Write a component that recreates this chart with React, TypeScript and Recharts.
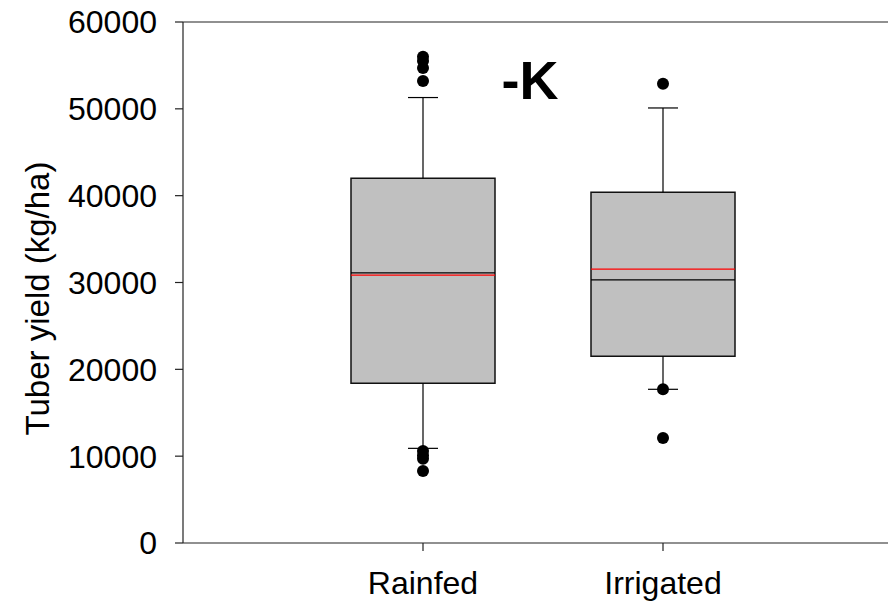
import React from 'react';
import {
  ComposedChart,
  XAxis,
  YAxis,
  Scatter,
  ReferenceArea,
  ReferenceLine,
} from 'recharts';

// Treatments and their positions on the numeric x axis
const categories = ['Rainfed', 'Irrigated'];
const positions = [1, 2];

// Box statistics for tuber yield (kg/ha)
const lowerWhisker = [10900, 17700];
const q1 = [18400, 21500];
const median = [31100, 30300];
const mean = [30850, 31550];
const q3 = [42000, 40400];
const upperWhisker = [51300, 50100];

// Points outside the whiskers
const rainfedOutliers = [56000, 55500, 54700, 53200, 10600, 10100, 9700, 8300];
const irrigatedOutliers = [52900, 17700, 12100];

const yTicks = [0, 10000, 20000, 30000, 40000, 50000, 60000];

const BOX_HALF = 0.3;
const CAP_HALF = 0.0625;
const FONT = 'Liberation Sans, Arial, sans-serif';
const TICK_SIZE = 32;

const outlierData = [
  ...rainfedOutliers.map((y) => ({ x: positions[0], y })),
  ...irrigatedOutliers.map((y) => ({ x: positions[1], y })),
];

const Dot = (props: any) => <circle cx={props.cx} cy={props.cy} r={6} fill="#000" />;

const YLabel = (props: any) => {
  const vb = props.viewBox || { x: 0, y: 0, width: 0, height: 0 };
  const cx = vb.x + 37;
  const cy = vb.y + vb.height / 2 + 16;
  return (
    <text
      x={cx}
      y={cy}
      transform={`rotate(-90 ${cx} ${cy})`}
      textAnchor="middle"
      dominantBaseline="central"
      fontFamily={FONT}
      fontSize={33}
      fill="#000"
    >
      Tuber yield (kg/ha)
    </text>
  );
};

export default function App() {
  return (
    <div
      style={{
        position: 'absolute',
        left: 0,
        top: 0,
        width: 888,
        height: 602,
        overflow: 'hidden',
        background: '#fff',
      }}
    >
      <ComposedChart
        width={903}
        height={602}
        margin={{ top: 22, right: 0, bottom: 0, left: 0 }}
      >
        <XAxis
          type="number"
          dataKey="x"
          domain={[0, 3]}
          ticks={positions}
          tickFormatter={(v: number) => categories[positions.indexOf(v)] ?? ''}
          height={59}
          axisLine={{ stroke: '#222', strokeWidth: 1.2 }}
          tickLine={{ stroke: '#222', strokeWidth: 1.2 }}
          tickSize={8}
          tickMargin={20}
          tick={{ fill: '#000', fontSize: TICK_SIZE, fontFamily: FONT }}
          allowDataOverflow
        />
        <YAxis
          type="number"
          dataKey="y"
          domain={[0, 60000]}
          ticks={yTicks}
          width={183}
          axisLine={{ stroke: '#222', strokeWidth: 1.2 }}
          tickLine={{ stroke: '#222', strokeWidth: 1.2 }}
          tickSize={8}
          tickMargin={18}
          tick={{ fill: '#000', fontSize: TICK_SIZE, fontFamily: FONT }}
          label={<YLabel />}
          allowDataOverflow
        />
        <ReferenceLine y={60000} stroke="#222" strokeWidth={1.2} />

        {positions.map((p, i) => (
          <ReferenceLine
            key={`wu-${i}`}
            segment={[
              { x: p, y: q3[i] },
              { x: p, y: upperWhisker[i] },
            ]}
            stroke="#000"
            strokeWidth={1.2}
          />
        ))}
        {positions.map((p, i) => (
          <ReferenceLine
            key={`wd-${i}`}
            segment={[
              { x: p, y: lowerWhisker[i] },
              { x: p, y: q1[i] },
            ]}
            stroke="#000"
            strokeWidth={1.2}
          />
        ))}
        {positions.map((p, i) => (
          <ReferenceLine
            key={`cu-${i}`}
            segment={[
              { x: p - CAP_HALF, y: upperWhisker[i] },
              { x: p + CAP_HALF, y: upperWhisker[i] },
            ]}
            stroke="#000"
            strokeWidth={1.2}
          />
        ))}
        {positions.map((p, i) => (
          <ReferenceLine
            key={`cl-${i}`}
            segment={[
              { x: p - CAP_HALF, y: lowerWhisker[i] },
              { x: p + CAP_HALF, y: lowerWhisker[i] },
            ]}
            stroke="#000"
            strokeWidth={1.2}
          />
        ))}
        {positions.map((p, i) => (
          <ReferenceArea
            key={`box-${i}`}
            x1={p - BOX_HALF}
            x2={p + BOX_HALF}
            y1={q1[i]}
            y2={q3[i]}
            fill="#c0c0c0"
            fillOpacity={1}
            stroke="#111"
            strokeWidth={1.5}
          />
        ))}
        {positions.map((p, i) => (
          <ReferenceLine
            key={`med-${i}`}
            segment={[
              { x: p - BOX_HALF, y: median[i] },
              { x: p + BOX_HALF, y: median[i] },
            ]}
            stroke="#000"
            strokeWidth={1.2}
          />
        ))}
        {positions.map((p, i) => (
          <ReferenceLine
            key={`mean-${i}`}
            segment={[
              { x: p - BOX_HALF, y: mean[i] },
              { x: p + BOX_HALF, y: mean[i] },
            ]}
            stroke="#ff0000"
            strokeWidth={1.2}
          />
        ))}

        <Scatter data={outlierData} dataKey="y" shape={<Dot />} isAnimationActive={false} />

        <text
          x={530}
          y={80}
          textAnchor="middle"
          dominantBaseline="central"
          fontFamily={FONT}
          fontWeight="bold"
          fontSize={54}
          fill="#000"
        >
          -K
        </text>
      </ComposedChart>
    </div>
  );
}
